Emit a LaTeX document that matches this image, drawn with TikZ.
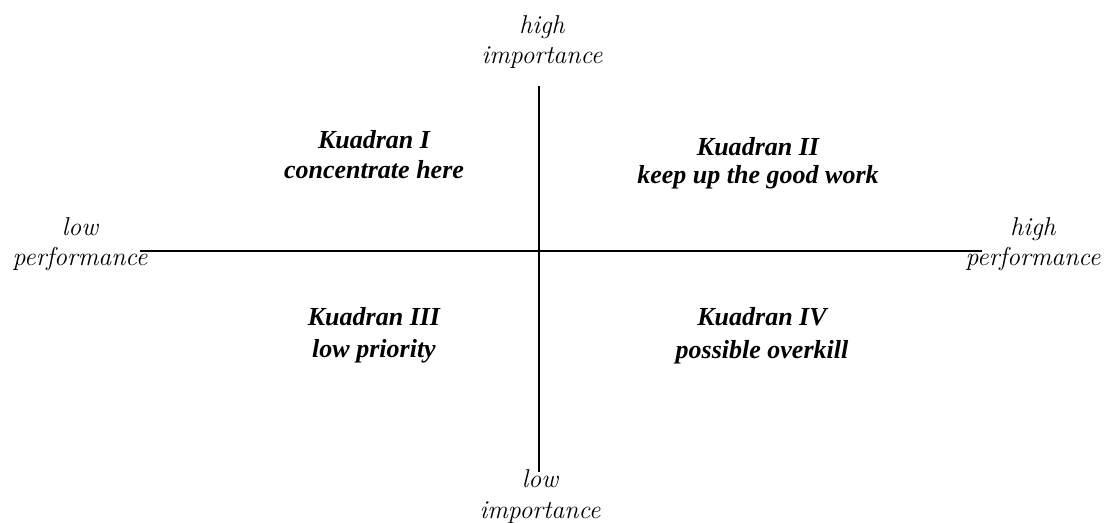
\documentclass[tikz,border=0pt]{standalone}
\usepackage{fontspec}
\newfontfamily\quadfont{Liberation Serif}
\begin{document}
\begin{tikzpicture}[x=1pt,y=-1pt,
  axislbl/.style={anchor=base,inner sep=0pt,font=\fontsize{25.8}{30}\selectfont\itshape},
  quadlbl/.style={anchor=base,inner sep=0pt,font=\quadfont\fontsize{26}{30}\selectfont\bfseries\itshape},
  axisline/.style={line width=1.6pt}]
\useasboundingbox (0,0) rectangle (1105,522);
\coordinate (vt) at (539,86);
\coordinate (vb) at (539,472);
\coordinate (hl) at (140,251);
\coordinate (hr) at (982,251);
\draw[axisline] (vt) -- (vb);
\draw[axisline] (hl) -- (hr);
% axis labels
\node[axislbl] (hi1) at (542,33) {high};
\node[axislbl] (hi2) at (542,63) {importance};
\node[axislbl] (li1) at (540,487) {low};
\node[axislbl] (li2) at (540,518) {importance};
\node[axislbl] (lp1) at (80,235) {low};
\node[axislbl] (lp2) at (80,265) {performance};
\node[axislbl] (hp1) at (1033,235) {high};
\node[axislbl] (hp2) at (1033,265) {performance};
% quadrants
\node[quadlbl] (q1a) at (374,148) {Kuadran I};
\node[quadlbl] (q1b) at (374,178) {concentrate here};
\node[quadlbl] (q2a) at (758,155) {Kuadran II};
\node[quadlbl] (q2b) at (758,183) {keep up the good work};
\node[quadlbl] (q3a) at (374,325) {Kuadran III};
\node[quadlbl] (q3b) at (374,357) {low priority};
\node[quadlbl] (q4a) at (762,325) {Kuadran IV};
\node[quadlbl] (q4b) at (762,358) {possible overkill};
\end{tikzpicture}
\end{document}
